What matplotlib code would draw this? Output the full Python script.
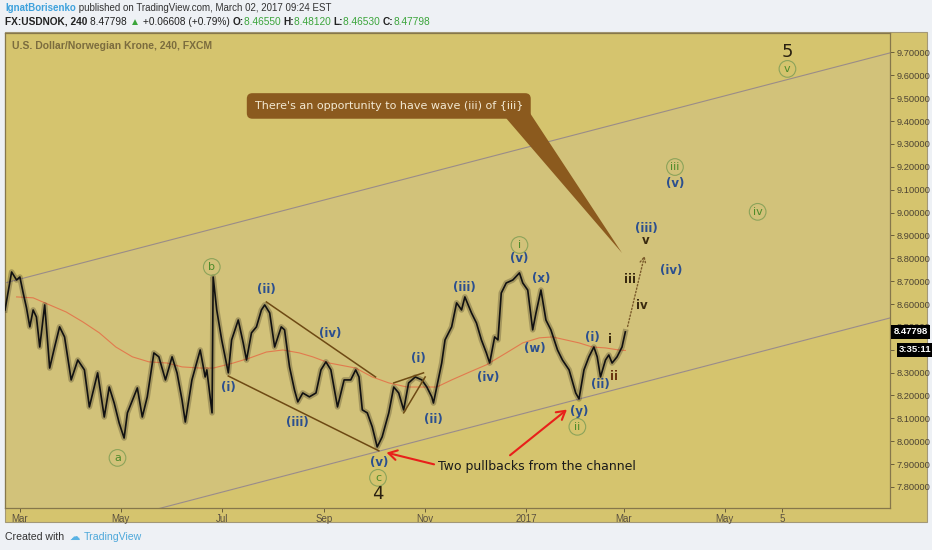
import matplotlib
matplotlib.use('Agg')
import matplotlib.pyplot as plt
import matplotlib.dates as mdates
from matplotlib.patches import Rectangle, Polygon
from matplotlib.transforms import blended_transform_factory
import numpy as np

W, H, DPI = 932, 550, 100

# ---------------- data ----------------
price_dates = ['2016-02-21', '2016-02-25', '2016-02-28', '2016-03-01', '2016-03-03', '2016-03-05',
               '2016-03-07', '2016-03-09', '2016-03-11', '2016-03-13', '2016-03-16', '2016-03-19',
               '2016-03-22', '2016-03-25', '2016-03-28', '2016-04-01', '2016-04-05', '2016-04-09',
               '2016-04-12', '2016-04-17', '2016-04-21', '2016-04-24', '2016-04-27', '2016-04-30',
               '2016-05-03', '2016-05-05', '2016-05-11', '2016-05-14', '2016-05-17', '2016-05-21',
               '2016-05-24', '2016-05-28', '2016-06-01', '2016-06-04', '2016-06-07', '2016-06-09',
               '2016-06-13', '2016-06-18', '2016-06-21', '2016-06-22', '2016-06-25 04:00',
               '2016-06-25 20:00', '2016-06-28', '2016-07-01', '2016-07-05', '2016-07-07',
               '2016-07-11', '2016-07-14', '2016-07-16', '2016-07-19', '2016-07-22', '2016-07-25',
               '2016-07-27', '2016-07-30', '2016-08-02', '2016-08-06', '2016-08-08', '2016-08-11',
               '2016-08-14', '2016-08-16', '2016-08-19', '2016-08-23', '2016-08-27', '2016-08-30',
               '2016-09-02', '2016-09-05', '2016-09-09', '2016-09-13', '2016-09-17', '2016-09-20',
               '2016-09-22', '2016-09-24', '2016-09-27', '2016-09-30', '2016-10-03', '2016-10-06',
               '2016-10-10', '2016-10-13', '2016-10-16', '2016-10-19', '2016-10-22', '2016-10-26',
               '2016-10-30', '2016-11-02', '2016-11-05', '2016-11-06', '2016-11-08', '2016-11-11',
               '2016-11-13', '2016-11-17', '2016-11-20', '2016-11-23', '2016-11-25', '2016-11-29',
               '2016-12-02', '2016-12-05', '2016-12-08', '2016-12-10', '2016-12-13', '2016-12-15',
               '2016-12-17', '2016-12-20', '2016-12-24', '2016-12-28', '2016-12-30', '2017-01-02',
               '2017-01-05', '2017-01-07', '2017-01-10', '2017-01-13', '2017-01-16', '2017-01-20',
               '2017-01-23', '2017-01-27', '2017-01-31', '2017-02-02', '2017-02-05', '2017-02-08',
               '2017-02-11', '2017-02-13', '2017-02-15', '2017-02-18', '2017-02-20', '2017-02-22',
               '2017-02-25', '2017-02-28', '2017-03-02']
price_values = [8.574, 8.740, 8.705, 8.718, 8.648, 8.583,
                8.500, 8.574, 8.543, 8.412, 8.596, 8.320,
                8.412, 8.500, 8.456, 8.268, 8.355, 8.312,
                8.150, 8.299, 8.106, 8.237, 8.167, 8.080,
                8.014, 8.124, 8.233, 8.106, 8.194, 8.386,
                8.369, 8.268, 8.369, 8.299, 8.181, 8.084,
                8.268, 8.399, 8.281, 8.312, 8.124,
                8.718, 8.574, 8.443, 8.299, 8.443,
                8.530, 8.430, 8.355, 8.474, 8.500, 8.574,
                8.596, 8.561, 8.412, 8.500, 8.487, 8.325,
                8.224, 8.172, 8.211, 8.194, 8.211, 8.312,
                8.347, 8.312, 8.150, 8.268, 8.268, 8.312,
                8.281, 8.137, 8.124, 8.063, 7.975, 8.019,
                8.124, 8.237, 8.211, 8.137, 8.255, 8.281,
                8.268, 8.237, 8.194, 8.167, 8.237, 8.342,
                8.443, 8.500, 8.605, 8.574, 8.631, 8.561,
                8.517, 8.443, 8.386, 8.342, 8.456, 8.443,
                8.648, 8.692, 8.705, 8.736, 8.692, 8.661,
                8.487, 8.561, 8.661, 8.530, 8.487, 8.399,
                8.355, 8.312, 8.211, 8.185, 8.312, 8.369,
                8.412, 8.369, 8.281, 8.355, 8.377, 8.342,
                8.369, 8.412, 8.478]

ma_dates = ['2016-02-28', '2016-03-09', '2016-03-19', '2016-03-29', '2016-04-08', '2016-04-18',
            '2016-04-28', '2016-05-08', '2016-05-18', '2016-05-29', '2016-06-07', '2016-06-18',
            '2016-06-26', '2016-07-08', '2016-07-18', '2016-07-28', '2016-08-07', '2016-08-17',
            '2016-08-25', '2016-09-04', '2016-09-20', '2016-09-30', '2016-10-10', '2016-10-21',
            '2016-10-30', '2016-11-08', '2016-11-17', '2016-11-28', '2016-12-08', '2016-12-20',
            '2016-12-30', '2017-01-09', '2017-01-17', '2017-01-25', '2017-02-02', '2017-02-10',
            '2017-02-18', '2017-02-26', '2017-03-02']
ma_values = [8.631, 8.627, 8.596, 8.565, 8.522, 8.474,
             8.412, 8.369, 8.347, 8.342, 8.325, 8.320,
             8.320, 8.342, 8.364, 8.390, 8.399, 8.386,
             8.369, 8.342, 8.320, 8.281, 8.255, 8.237,
             8.237, 8.237, 8.268, 8.303, 8.334, 8.386,
             8.430, 8.452, 8.456, 8.443, 8.430, 8.412,
             8.408, 8.399, 8.397]

channel_dates = ['2016-02-21', '2017-08-09']
channel_upper = [8.692, 9.698]
channel_lower = [7.530, 8.539]

wedge_top_dates = ['2016-07-28', '2016-10-02']
wedge_top_values = [8.609, 8.281]
wedge_bot_dates = ['2016-07-05', '2016-10-04']
wedge_bot_values = [8.285, 7.958]
tri_top_dates = ['2016-10-13', '2016-10-31']
tri_top_values = [8.255, 8.299]
tri_bot_dates = ['2016-10-19', '2016-11-01']
tri_bot_values = [8.124, 8.281]

xtick_dates = ['2016-03-01', '2016-05-01', '2016-07-01', '2016-09-01', '2016-11-01',
               '2017-01-01', '2017-03-01', '2017-05-01', '2017-06-05']
xtick_labels = ['Mar', 'May', 'Jul', 'Sep', 'Nov', '2017', 'Mar', 'May', '5']
ytick_values = [7.8, 7.9, 8.0, 8.1, 8.2, 8.3, 8.4, 8.5, 8.6, 8.7,
                8.8, 8.9, 9.0, 9.1, 9.2, 9.3, 9.4, 9.5, 9.6, 9.7]

blue_labels = [('(i)', '2016-07-05', 8.237), ('(ii)', '2016-07-28', 8.662),
               ('(iii)', '2016-08-16', 8.080), ('(iv)', '2016-09-04 12:00', 8.469),
               ('(v)', '2016-10-04', 7.905), ('(i)', '2016-10-28', 8.360),
               ('(ii)', '2016-11-06', 8.093), ('(iii)', '2016-11-25', 8.670),
               ('(iv)', '2016-12-09', 8.277), ('(v)', '2016-12-28', 8.797),
               ('(x)', '2017-01-10', 8.710), ('(w)', '2017-01-06', 8.404),
               ('(i)', '2017-02-10', 8.452), ('(ii)', '2017-02-15', 8.246),
               ('(y)', '2017-02-02', 8.132), ('(iii)', '2017-03-15', 8.928),
               ('(v)', '2017-04-01', 9.129), ('(iv)', '2017-03-30', 8.745)]
green_labels = [('a', '2016-04-29', 7.927), ('b', '2016-06-25', 8.762),
                ('c', '2016-10-03 12:00', 7.840), ('ii', '2017-02-01', 8.063),
                ('i', '2016-12-28', 8.858), ('iii', '2017-04-01', 9.199),
                ('iv', '2017-05-21', 9.003), ('v', '2017-06-08', 9.628)]
minor_labels = [('i', '2017-02-21', 8.443), ('ii', '2017-02-23', 8.281),
                ('iii', '2017-03-05', 8.705), ('iv', '2017-03-12', 8.592),
                ('v', '2017-03-14', 8.876)]
degree_labels = [('4', '2016-10-03 12:00', 7.770), ('5', '2017-06-08', 9.702)]

last_price = 8.47798


def d(s):
    return mdates.datestr2num(s)


# ---------------- figure ----------------
plt.rcParams['font.family'] = ['DejaVu Sans']
NARROW = ['Liberation Sans', 'DejaVu Sans']
fig = plt.figure(figsize=(W / DPI, H / DPI), dpi=DPI, facecolor='#EEF1F5')

# outer panel
fig.patches.append(Rectangle((5 / W, 1 - 522 / H), 922 / W, 490 / H, transform=fig.transFigure,
                             facecolor='#D5C46E', edgecolor='#A39877', lw=0.8, zorder=-5))

ax = fig.add_axes([5 / W, 1 - 508 / H, 885 / W, 475 / H])
ax.set_zorder(2)
ax.set_facecolor('#D5C46E')
ax.set_xlim(d('2016-02-21'), d('2017-08-09'))
ax.set_ylim(7.708, 9.785)
for s in ax.spines.values():
    s.set_color('#86774B')
    s.set_linewidth(0.9)

ax.yaxis.tick_right()
ax.set_yticks(ytick_values)
ax.set_yticklabels(['%.5f' % v if abs(v - 8.4) > 1e-6 else '' for v in ytick_values],
                   family=NARROW)
ax.set_xticks([d(s) for s in xtick_dates])
ax.set_xticklabels(xtick_labels, family=NARROW)
ax.tick_params(axis='y', length=3, width=0.7, color='#6A5D3A', labelsize=6.7,
               labelcolor='#4D4433', pad=1.5)
ax.tick_params(axis='x', length=3, width=0.7, color='#6A5D3A', labelsize=7,
               labelcolor='#5A5040', pad=1.5)

# channel
cx = d(channel_dates)
ax.fill_between(cx, channel_lower, channel_upper, color='#C8BEB4', alpha=0.18, lw=0, zorder=1)
ax.plot(cx, channel_upper, color='#9A8C8A', lw=0.8, zorder=2)
ax.plot(cx, channel_lower, color='#9A8C8A', lw=0.8, zorder=2)

# MA
ax.plot(d(ma_dates), ma_values, color='#E27A4E', lw=0.8, zorder=3)

# price
px = d(price_dates)
ax.plot(px, price_values, color='#2E2616', lw=4.0, alpha=0.28, zorder=4)
ax.plot(px, price_values, color='#111111', lw=1.2, zorder=5)

# wedge / triangle lines
for dd, vv in [(wedge_top_dates, wedge_top_values), (wedge_bot_dates, wedge_bot_values),
               (tri_top_dates, tri_top_values), (tri_bot_dates, tri_bot_values)]:
    ax.plot(d(dd), vv, color='#6E4A14', lw=1.1, zorder=6)

# labels
for t, ds, v in blue_labels:
    ax.text(d(ds), v, t, color='#2B4F8F', fontsize=8.5, fontweight='bold', ha='center',
            va='center', zorder=8)
for t, ds, v in green_labels:
    ax.text(d(ds), v, t, color='#4E8B2A', fontsize=8, ha='center', va='center', zorder=8,
            bbox=dict(boxstyle='circle,pad=0.3', fc='none', ec='#8CA35A', lw=0.8))
for t, ds, v in minor_labels:
    col = '#6B3510' if t == 'ii' else '#3A2A10'
    ax.text(d(ds), v, t, color=col, fontsize=8.5, fontweight='bold', ha='center', va='center',
            zorder=8)
for t, ds, v in degree_labels:
    ax.text(d(ds), v, t, color='#2A2010', fontsize=13, ha='center', va='center', zorder=8)

# dotted projection arrow
ax.annotate('', xy=(d('2017-03-14'), 8.823), xytext=(d('2017-03-03'), 8.49),
            arrowprops=dict(arrowstyle='->', linestyle=(0, (1, 1.5)), color='#7A5A2A', lw=1.0),
            zorder=7)

# callout
ax.add_patch(Polygon([(d('2016-12-20'), 9.412), (d('2017-01-02'), 9.45),
                      (d('2017-02-28'), 8.823)], closed=True, facecolor='#8B5A1E',
                     edgecolor='none', zorder=8))
ax.text(d('2016-10-10'), 9.466, "There's an opportunity to have wave (iii) of {iii}",
        color='#F3E9D2', fontsize=8, ha='center', va='center', zorder=9,
        bbox=dict(boxstyle='round,pad=0.7,rounding_size=0.5', fc='#8B5A1E', ec='none'))

# red arrows
red = dict(arrowstyle='->,head_length=0.6,head_width=0.35', color='#E8201A', lw=1.5)
ax.annotate('', xy=(d('2016-10-07'), 7.953), xytext=(d('2016-11-08'), 7.896), arrowprops=red,
            zorder=9)
ax.annotate('', xy=(d('2017-01-27'), 8.146), xytext=(d('2016-12-21'), 7.931), arrowprops=red,
            zorder=9)
ax.text(d('2016-11-09'), 7.888, 'Two pullbacks from the channel', color='#1A1A1A', fontsize=9,
        ha='left', va='center', zorder=9)

# chart title
ax.text(0.008, 0.972, 'U.S. Dollar/Norwegian Krone, 240, FXCM', transform=ax.transAxes,
        color='#7B6C3E', fontsize=7.5, fontweight='bold', family=NARROW, ha='left',
        va='center', zorder=9)

# last price tags on axis
bt = blended_transform_factory(ax.transAxes, ax.transData)
ax.text(1.004, last_price, '%.5f' % last_price, transform=bt, clip_on=False, color='white',
        fontsize=6.8, fontweight='bold', family=NARROW, ha='left', va='center', zorder=20,
        bbox=dict(boxstyle='square,pad=0.25', fc='black', ec='none'))
ax.annotate('3:35:11', xy=(1.0, last_price), xycoords=bt, xytext=(6.5, -13),
            textcoords='offset points', color='white', fontsize=6.8, fontweight='bold',
            family=NARROW, ha='left', va='center', annotation_clip=False, zorder=20,
            bbox=dict(boxstyle='square,pad=0.25', fc='black', ec='none'))

# header / footer texts
fig.canvas.draw()
renderer = fig.canvas.get_renderer()


def seq(x_px, y_px, parts, size):
    x = x_px
    for txt, color, weight in parts:
        t = fig.text(x / W, 1 - y_px / H, txt, color=color, fontsize=size, fontweight=weight,
                     family=NARROW, ha='left', va='center')
        bb = t.get_window_extent(renderer)
        x += bb.width


seq(5, 8, [('IgnatBorisenko', '#3FA2DC', 'bold'),
           (' published on TradingView.com, March 02, 2017 09:24 EST', '#333333', 'normal')], 7.0)
green = '#3BA53B'
seq(5, 22, [('FX:USDNOK, 240 ', '#222222', 'bold'), ('8.47798 ', '#222222', 'normal'),
            ('▲', green, 'normal'), (' +0.06608 (+0.79%) ', '#222222', 'normal'),
            ('O:', '#222222', 'bold'), ('8.46550 ', green, 'normal'),
            ('H:', '#222222', 'bold'), ('8.48120 ', green, 'normal'),
            ('L:', '#222222', 'bold'), ('8.46530 ', green, 'normal'),
            ('C:', '#222222', 'bold'), ('8.47798', green, 'normal')], 7.3)
seq(5, 537, [('Created with ', '#333333', 'normal'), (' ☁ ', '#58B2E4', 'normal'),
             ('TradingView', '#4EA8DA', 'normal')], 7.6)

fig.savefig('out.png', dpi=DPI, facecolor=fig.get_facecolor())
